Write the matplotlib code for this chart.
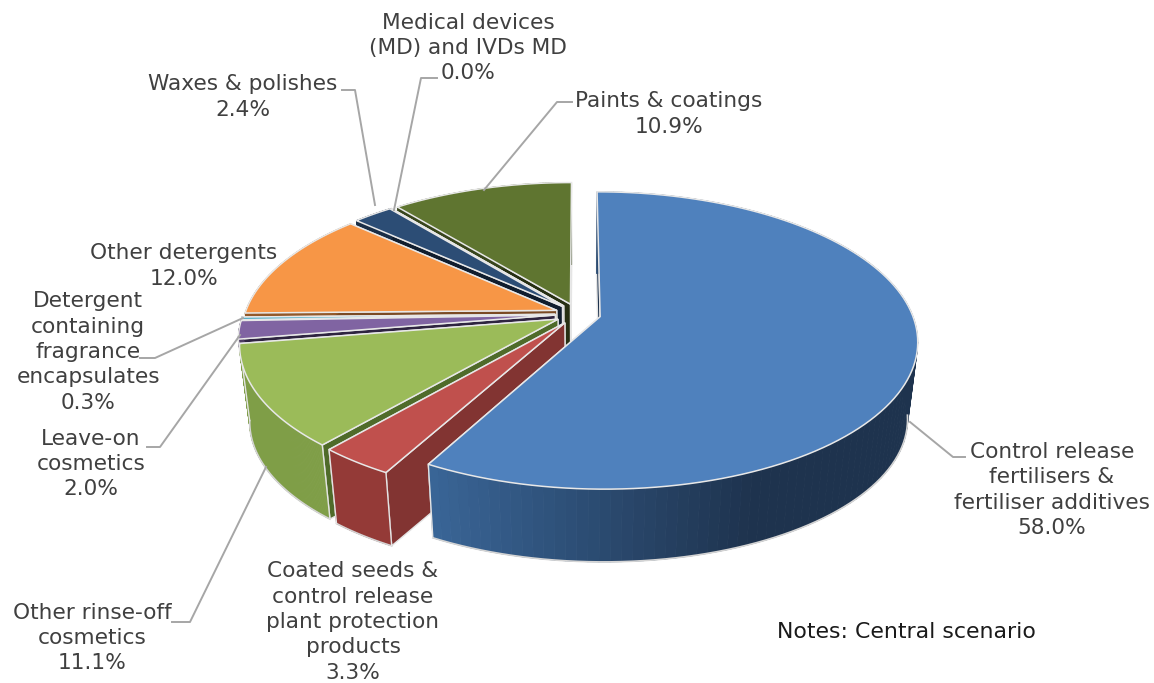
import numpy as np
import matplotlib
matplotlib.use("Agg")
import matplotlib.pyplot as plt
from matplotlib.collections import PolyCollection
from matplotlib.colors import to_rgb

# fatias em sentido horario a partir do topo
nomes = ["Control release\nfertilisers &\nfertiliser additives",
         "Coated seeds &\ncontrol release\nplant protection\nproducts",
         "Other rinse-off\ncosmetics",
         "Leave-on\ncosmetics",
         "Detergent\ncontaining\nfragrance\nencapsulates",
         "Other detergents",
         "Waxes & polishes",
         "Medical devices\n(MD) and IVDs MD",
         "Paints & coatings"]
valores = [58.0, 3.3, 11.1, 2.0, 0.3, 12.0, 2.4, 0.0, 10.9]
cores = ["#4F81BD", "#C0504D", "#9BBB59", "#8064A2", "#4BACC6",
         "#F79646", "#2C4D75", "#772C2A", "#5F7530"]
lado_esq = ["#3A6698", "#943A37", "#7F9E47", "#4D3C62", "#2D6777",
            "#94592A", "#1A2E46", "#471A19", "#39461D"]
lado_dir = ["#1E334E", "#943A37", "#7F9E47", "#4D3C62", "#2D6777",
            "#94592A", "#1A2E46", "#471A19", "#39461D"]
lado_radial = ["#1E334E", "#823432", "#4F6B2A", "#2E2440", "#2D6777",
               "#7A4A24", "#101D2E", "#471A19", "#262F13"]

# posicao dos rotulos: (x centro, y centro, linha guia)
rotulos = [
    (1052, 490, [(910, 422), (953, 457), (965, 457)]),
    (353, 622, None),
    (92, 638, [(266, 467), (190, 622), (172, 622)]),
    (91, 464, [(240, 335), (160, 447), (147, 447)]),
    (88, 352, [(243, 318), (155, 358), (140, 358)]),
    (184, 266, None),
    (243, 97, [(375, 205), (355, 90), (342, 90)]),
    (468, 48, [(394, 210), (421, 78), (437, 78)]),
    (669, 114, [(484, 190), (557, 102), (572, 102)]),
]

# geometria da pizza em perspectiva
cx, cy = 578, 314
rx, ry = 312, 144
k = 0.16
explode = 0.073
desce = 78
fundo = 0.97


def proj(x, y, baixo=False):
    s = 1 / (1 + k * y)
    if baixo:
        return cx + fundo * rx * x * s, cy + desce - fundo * ry * y * s
    return cx + rx * x * s, cy - ry * y * s


fig = plt.figure(figsize=(11.54, 6.83), dpi=100)
ax = fig.add_axes([0, 0, 1, 1])
ax.set_xlim(0, 1154)
ax.set_ylim(683, 0)
ax.axis("off")

fim = np.cumsum(valores) / 100 * 2 * np.pi
ini = fim - np.array(valores) / 100 * 2 * np.pi
meio = (ini + fim) / 2

# de tras para frente
ordem = np.argsort(np.cos(meio))[::-1]
ordem = [i for i in ordem if i != 0] + [0]

z = 2
for i in ordem:
    ox = explode * np.sin(meio[i])
    oy = explode * np.cos(meio[i])
    th = np.linspace(ini[i], fim[i], 120)
    xs = ox + np.sin(th)
    ys = oy + np.cos(th)
    tx, ty = proj(xs, ys)
    bx, by = proj(xs, ys, True)
    ax0, ay0 = proj(ox, oy)
    bx0, by0 = proj(ox, oy, True)

    # faces radiais: a de tras primeiro
    for j in (-1, 0):
        ax.fill([ax0, tx[j], bx[j], bx0], [ay0, ty[j], by[j], by0],
                facecolor=lado_radial[i], edgecolor="#e4e4e4", lw=1.0, zorder=z)
    z += 1

    # borda externa com degrade
    x_min, x_max = tx.min(), tx.min() + 330
    quads = []
    fc = []
    a = np.array(to_rgb(lado_esq[i]))
    b = np.array(to_rgb(lado_dir[i]))
    for n in range(len(th) - 1):
        quads.append([(tx[n], ty[n]), (tx[n + 1], ty[n + 1]),
                      (bx[n + 1], by[n + 1]), (bx[n], by[n])])
        t = np.clip((tx[n] - x_min) / (x_max - x_min), 0, 1)
        fc.append(tuple(a + (b - a) * t))
    if quads:
        ax.add_collection(PolyCollection(quads, facecolors=fc, edgecolors=fc,
                                         linewidths=0.6, zorder=z))
    # so a parte da frente tem contorno embaixo
    frente = ys < -0.15
    if frente.any():
        ax.plot(bx[frente], by[frente], color="#d4d4d4", lw=1.2, zorder=z)
        if frente[-1]:
            ax.plot([tx[-1], bx[-1]], [ty[-1], by[-1]], color="#e4e4e4", lw=1.0, zorder=z)
        if frente[0]:
            ax.plot([tx[0], bx[0]], [ty[0], by[0]], color="#e4e4e4", lw=1.0, zorder=z)
    z += 1

    # face de cima
    ax.fill(np.r_[ax0, tx], np.r_[ay0, ty], facecolor=cores[i],
            edgecolor="#e8e8e8", lw=1.1, zorder=z)
    z += 1

for nome, v, (px, py, guia) in zip(nomes, valores, rotulos):
    ax.text(px, py, "%s\n%.1f%%" % (nome, v), ha="center", va="center",
            fontsize=15.6, color="#404040", linespacing=1.33, zorder=z + 2)
    if guia:
        ax.plot([p[0] for p in guia], [p[1] for p in guia], color="#a6a6a6",
                lw=1.4, zorder=z + 1)

ax.text(777, 632, "Notes: Central scenario", ha="left", va="center",
        fontsize=15.8, color="#1a1a1a", zorder=z + 2)

fig.savefig("out.png", dpi=100)
